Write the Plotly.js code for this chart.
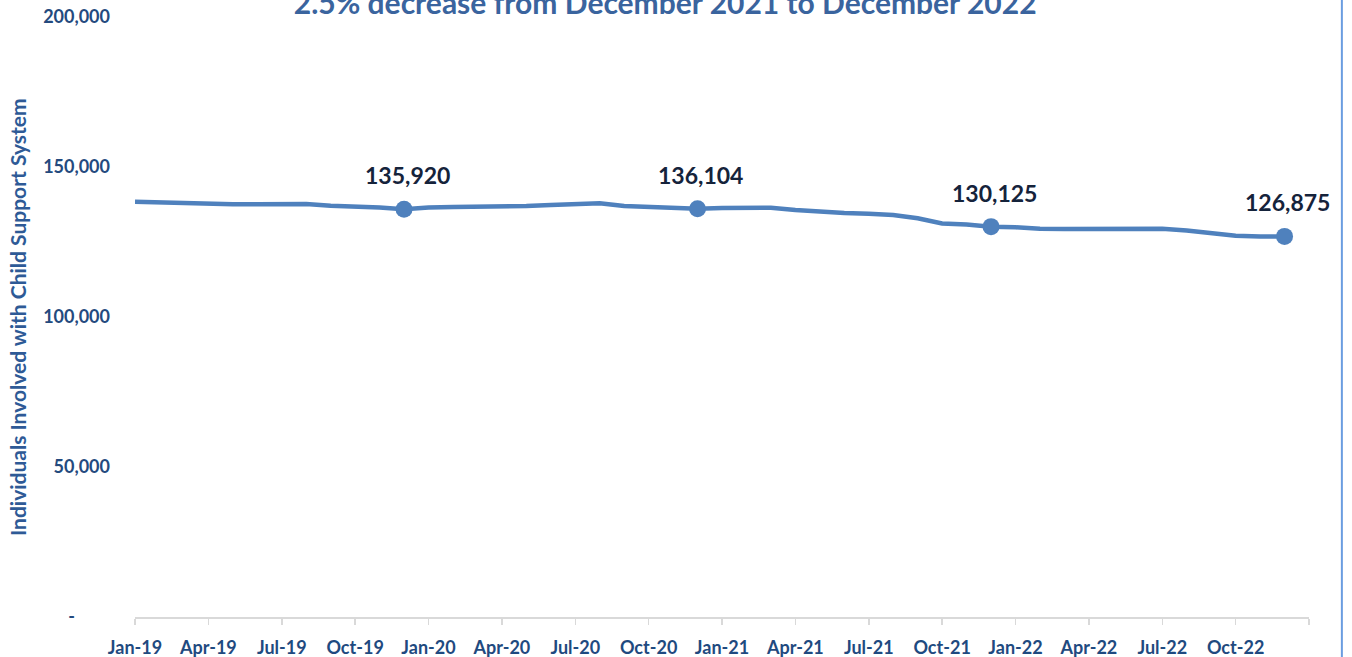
<!DOCTYPE html>
<html>
<head>
<meta charset="utf-8">
<script src="https://cdn.plot.ly/plotly-3.0.1.min.js"></script>
<style>html,body{margin:0;padding:0;background:#fff;}#chart{width:1352px;height:657px;}</style>
</head>
<body>
<div id="chart"></div>
<script>
// Month labels (Jan-19 .. Dec-22)
var months = [
  "Jan-19","Feb-19","Mar-19","Apr-19","May-19","Jun-19","Jul-19","Aug-19","Sep-19","Oct-19","Nov-19","Dec-19",
  "Jan-20","Feb-20","Mar-20","Apr-20","May-20","Jun-20","Jul-20","Aug-20","Sep-20","Oct-20","Nov-20","Dec-20",
  "Jan-21","Feb-21","Mar-21","Apr-21","May-21","Jun-21","Jul-21","Aug-21","Sep-21","Oct-21","Nov-21","Dec-21",
  "Jan-22","Feb-22","Mar-22","Apr-22","May-22","Jun-22","Jul-22","Aug-22","Sep-22","Oct-22","Nov-22","Dec-22"
];
// Individuals involved with child support system
var individuals = [
  138400,138100,137800,137600,137550,137550,137700,137700,137100,136900,136500,135920,
  136500,136700,136700,136900,137000,137300,137600,137900,137000,136800,136500,136104,
  136300,136400,136400,135700,135100,134700,134400,134000,132900,131200,130800,130125,
  129900,129400,129300,129400,129450,129300,129400,128800,127800,127100,126800,126875
];
// December highlight points
var highlightMonths = ["Dec-19","Dec-20","Dec-21","Dec-22"];
// Axis ticks
var xTickMonths = ["Jan-19","Apr-19","Jul-19","Oct-19","Jan-20","Apr-20","Jul-20","Oct-20",
                   "Jan-21","Apr-21","Jul-21","Oct-21","Jan-22","Apr-22","Jul-22","Oct-22"];
var yTickVals = [0, 50000, 100000, 150000, 200000];
var yTickText = ["-\u00a0\u00a0\u00a0\u00a0\u00a0\u00a0\u00a0\u00a0", "50,000", "100,000", "150,000", "200,000"];
var titleText = "2.5% decrease from December 2021 to December 2022";
var yTitleText = "Individuals Involved with Child Support System";

var xIdx = months.map(function(m, i){ return i; });
var hlX = highlightMonths.map(function(m){ return months.indexOf(m); });
var hlY = hlX.map(function(i){ return individuals[i]; });

var tickVals = xTickMonths.map(function(m){ return months.indexOf(m); });
tickVals.push(months.length);
var tickText = xTickMonths.slice();
tickText.push("");

var lineColor = "#4f81bd";
var font = "Lato, 'Open Sans', sans-serif";

var traces = [
  {x: xIdx, y: individuals, type: "scatter", mode: "lines",
   line: {color: lineColor, width: 4.5}, hoverinfo: "skip"},
  {x: hlX, y: hlY, type: "scatter", mode: "markers",
   marker: {color: lineColor, size: 17}, hoverinfo: "skip"}
];

var annotations = hlX.map(function(xi, k){
  return {x: xi, y: hlY[k], xref: "x", yref: "y", text: hlY[k].toLocaleString("en-US"),
    showarrow: false, yshift: 34, xshift: 3, yanchor: "middle",
    font: {family: font, size: 23, color: "#15233b", weight: 700}};
});
annotations.push({xref: "paper", yref: "paper", x: -0.1005, y: 0.5, xanchor: "center", yanchor: "middle",
  textangle: -90, showarrow: false, text: yTitleText,
  font: {family: font, size: 21, color: "#2e5a96", weight: 700}});

var layout = {
  width: 1352, height: 657,
  margin: {l: 135, r: 43, t: 17, b: 40},
  paper_bgcolor: "#ffffff", plot_bgcolor: "#ffffff",
  showlegend: false,
  font: {family: font},
  title: {text: titleText, xref: "container", yref: "container",
    x: 0.492, xanchor: "center", y: 1 - 14/657, yanchor: "bottom",
    font: {family: font, size: 30, color: "#3a649e", weight: 700}},
  xaxis: {range: [0, months.length], tickmode: "array", tickvals: tickVals, ticktext: tickText,
    showgrid: false, zeroline: false, showline: true, linecolor: "#d9d9d9", linewidth: 1.5,
    ticks: "outside", ticklen: 6, tickcolor: "#d9d9d9", tickwidth: 1.5, ticklabelstandoff: 8,
    tickfont: {family: font, size: 18, color: "#1f4a80", weight: 700}},
  yaxis: {range: [0, 200000], tickmode: "array", tickvals: yTickVals, ticktext: yTickText,
    showgrid: false, zeroline: false, showline: false, ticks: "", ticklabelstandoff: 24,
    tickfont: {family: font, size: 18, color: "#244a7e", weight: 700}},
  shapes: [{type: "line", xref: "paper", yref: "paper", x0: 1.028, x1: 1.028, y0: -0.1, y1: 1.1,
    line: {color: "#6a9de0", width: 2}}],
  annotations: annotations
};

Plotly.newPlot("chart", traces, layout, {displayModeBar: false, staticPlot: true});
</script>
</body>
</html>
